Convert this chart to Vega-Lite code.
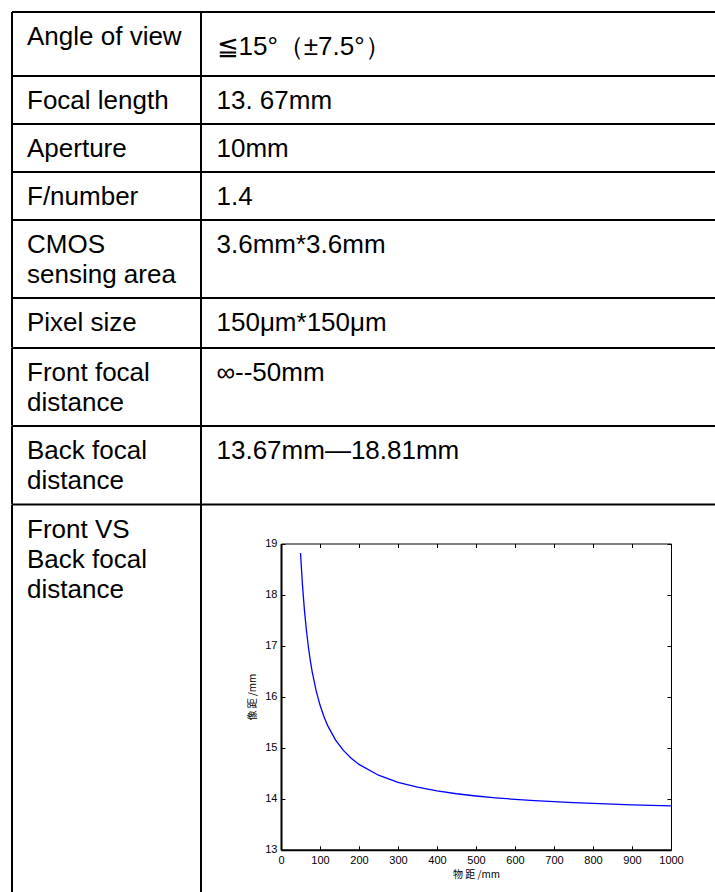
{
  "$schema": "https://vega.github.io/schema/vega-lite/v6.json",
  "background": "white",
  "padding": {"left": 11, "top": 11, "right": 0, "bottom": 0},
  "columns": 2,
  "spacing": 0,
  "bounds": "flush",
  "config": {
    "view": {"stroke": null},
    "font": "Liberation Sans",
    "rule": {"color": "black", "strokeWidth": 2},
    "text": {"font": "Liberation Sans", "fontSize": 26, "align": "left", "baseline": "alphabetic", "lineBreak": "\n", "lineHeight": 30.3, "fill": "black"}
  },
  "datasets": {
    "table": [
      {"row": 1, "parameter": "Angle of view", "content": "≦15°（±7.5°）"},
      {"row": 2, "parameter": "Focal length", "content": "13. 67mm"},
      {"row": 3, "parameter": "Aperture", "content": "10mm"},
      {"row": 4, "parameter": "F/number", "content": "1.4"},
      {"row": 5, "parameter": "CMOS\nsensing area", "content": "3.6mm*3.6mm"},
      {"row": 6, "parameter": "Pixel size", "content": "150μm*150μm"},
      {"row": 7, "parameter": "Front focal\ndistance", "content": "∞--50mm"},
      {"row": 8, "parameter": "Back focal\ndistance", "content": "13.67mm—18.81mm"},
      {"row": 9, "parameter": "Front VS\nBack focal\ndistance", "content": ""}
    ],
    "curve": [
      {"object_distance": 50, "image_distance": 18.814},
      {"object_distance": 55, "image_distance": 18.191},
      {"object_distance": 60, "image_distance": 17.704},
      {"object_distance": 65, "image_distance": 17.311},
      {"object_distance": 70, "image_distance": 16.987},
      {"object_distance": 75, "image_distance": 16.717},
      {"object_distance": 80, "image_distance": 16.487},
      {"object_distance": 90, "image_distance": 16.118},
      {"object_distance": 100, "image_distance": 15.835},
      {"object_distance": 110, "image_distance": 15.610},
      {"object_distance": 120, "image_distance": 15.427},
      {"object_distance": 140, "image_distance": 15.149},
      {"object_distance": 160, "image_distance": 14.947},
      {"object_distance": 180, "image_distance": 14.793},
      {"object_distance": 200, "image_distance": 14.673},
      {"object_distance": 250, "image_distance": 14.461},
      {"object_distance": 300, "image_distance": 14.323},
      {"object_distance": 350, "image_distance": 14.226},
      {"object_distance": 400, "image_distance": 14.154},
      {"object_distance": 450, "image_distance": 14.098},
      {"object_distance": 500, "image_distance": 14.054},
      {"object_distance": 550, "image_distance": 14.018},
      {"object_distance": 600, "image_distance": 13.989},
      {"object_distance": 650, "image_distance": 13.964},
      {"object_distance": 700, "image_distance": 13.942},
      {"object_distance": 750, "image_distance": 13.924},
      {"object_distance": 800, "image_distance": 13.908},
      {"object_distance": 850, "image_distance": 13.894},
      {"object_distance": 900, "image_distance": 13.881},
      {"object_distance": 950, "image_distance": 13.870},
      {"object_distance": 1000, "image_distance": 13.860}
    ]
  },
  "concat": [
    {"width": 189, "height": 64, "data": {"name": "table"}, "transform": [{"filter": "datum.row == 1"}], "layer": [
      {"mark": "rule", "encoding": {"x": {"value": 0}, "x2": {"value": "width"}, "y": {"value": 0}}},
      {"mark": "rule", "encoding": {"x": {"value": 0}, "y": {"value": 0}, "y2": {"value": "height"}}},
      {"mark": "text", "encoding": {"text": {"field": "parameter"}, "x": {"value": 15}, "y": {"value": 32.5}}}
    ]},
    {"width": 515, "height": 64, "data": {"name": "table"}, "transform": [{"filter": "datum.row == 1"}], "layer": [
      {"mark": "rule", "encoding": {"x": {"value": 0}, "x2": {"value": "width"}, "y": {"value": 0}}},
      {"mark": "rule", "encoding": {"x": {"value": 0}, "y": {"value": 0}, "y2": {"value": "height"}}},
      {"mark": "text", "encoding": {"text": {"field": "content"}, "x": {"value": 15.5}, "y": {"value": 42.5}}}
    ]},
    {"width": 189, "height": 48, "data": {"name": "table"}, "transform": [{"filter": "datum.row == 2"}], "layer": [
      {"mark": "rule", "encoding": {"x": {"value": 0}, "x2": {"value": "width"}, "y": {"value": 0}}},
      {"mark": "rule", "encoding": {"x": {"value": 0}, "y": {"value": 0}, "y2": {"value": "height"}}},
      {"mark": "text", "encoding": {"text": {"field": "parameter"}, "x": {"value": 15}, "y": {"value": 32.5}}}
    ]},
    {"width": 515, "height": 48, "data": {"name": "table"}, "transform": [{"filter": "datum.row == 2"}], "layer": [
      {"mark": "rule", "encoding": {"x": {"value": 0}, "x2": {"value": "width"}, "y": {"value": 0}}},
      {"mark": "rule", "encoding": {"x": {"value": 0}, "y": {"value": 0}, "y2": {"value": "height"}}},
      {"mark": "text", "encoding": {"text": {"field": "content"}, "x": {"value": 15.5}, "y": {"value": 32.5}}}
    ]},
    {"width": 189, "height": 48, "data": {"name": "table"}, "transform": [{"filter": "datum.row == 3"}], "layer": [
      {"mark": "rule", "encoding": {"x": {"value": 0}, "x2": {"value": "width"}, "y": {"value": 0}}},
      {"mark": "rule", "encoding": {"x": {"value": 0}, "y": {"value": 0}, "y2": {"value": "height"}}},
      {"mark": "text", "encoding": {"text": {"field": "parameter"}, "x": {"value": 15}, "y": {"value": 32.5}}}
    ]},
    {"width": 515, "height": 48, "data": {"name": "table"}, "transform": [{"filter": "datum.row == 3"}], "layer": [
      {"mark": "rule", "encoding": {"x": {"value": 0}, "x2": {"value": "width"}, "y": {"value": 0}}},
      {"mark": "rule", "encoding": {"x": {"value": 0}, "y": {"value": 0}, "y2": {"value": "height"}}},
      {"mark": "text", "encoding": {"text": {"field": "content"}, "x": {"value": 15.5}, "y": {"value": 32.5}}}
    ]},
    {"width": 189, "height": 48, "data": {"name": "table"}, "transform": [{"filter": "datum.row == 4"}], "layer": [
      {"mark": "rule", "encoding": {"x": {"value": 0}, "x2": {"value": "width"}, "y": {"value": 0}}},
      {"mark": "rule", "encoding": {"x": {"value": 0}, "y": {"value": 0}, "y2": {"value": "height"}}},
      {"mark": "text", "encoding": {"text": {"field": "parameter"}, "x": {"value": 15}, "y": {"value": 32.5}}}
    ]},
    {"width": 515, "height": 48, "data": {"name": "table"}, "transform": [{"filter": "datum.row == 4"}], "layer": [
      {"mark": "rule", "encoding": {"x": {"value": 0}, "x2": {"value": "width"}, "y": {"value": 0}}},
      {"mark": "rule", "encoding": {"x": {"value": 0}, "y": {"value": 0}, "y2": {"value": "height"}}},
      {"mark": "text", "encoding": {"text": {"field": "content"}, "x": {"value": 15.5}, "y": {"value": 32.5}}}
    ]},
    {"width": 189, "height": 78, "data": {"name": "table"}, "transform": [{"filter": "datum.row == 5"}], "layer": [
      {"mark": "rule", "encoding": {"x": {"value": 0}, "x2": {"value": "width"}, "y": {"value": 0}}},
      {"mark": "rule", "encoding": {"x": {"value": 0}, "y": {"value": 0}, "y2": {"value": "height"}}},
      {"mark": "text", "encoding": {"text": {"field": "parameter"}, "x": {"value": 15}, "y": {"value": 32.5}}}
    ]},
    {"width": 515, "height": 78, "data": {"name": "table"}, "transform": [{"filter": "datum.row == 5"}], "layer": [
      {"mark": "rule", "encoding": {"x": {"value": 0}, "x2": {"value": "width"}, "y": {"value": 0}}},
      {"mark": "rule", "encoding": {"x": {"value": 0}, "y": {"value": 0}, "y2": {"value": "height"}}},
      {"mark": "text", "encoding": {"text": {"field": "content"}, "x": {"value": 15.5}, "y": {"value": 32.5}}}
    ]},
    {"width": 189, "height": 49.5, "data": {"name": "table"}, "transform": [{"filter": "datum.row == 6"}], "layer": [
      {"mark": "rule", "encoding": {"x": {"value": 0}, "x2": {"value": "width"}, "y": {"value": 0}}},
      {"mark": "rule", "encoding": {"x": {"value": 0}, "y": {"value": 0}, "y2": {"value": "height"}}},
      {"mark": "text", "encoding": {"text": {"field": "parameter"}, "x": {"value": 15}, "y": {"value": 32.5}}}
    ]},
    {"width": 515, "height": 49.5, "data": {"name": "table"}, "transform": [{"filter": "datum.row == 6"}], "layer": [
      {"mark": "rule", "encoding": {"x": {"value": 0}, "x2": {"value": "width"}, "y": {"value": 0}}},
      {"mark": "rule", "encoding": {"x": {"value": 0}, "y": {"value": 0}, "y2": {"value": "height"}}},
      {"mark": "text", "encoding": {"text": {"field": "content"}, "x": {"value": 15.5}, "y": {"value": 32.5}}}
    ]},
    {"width": 189, "height": 77.5, "data": {"name": "table"}, "transform": [{"filter": "datum.row == 7"}], "layer": [
      {"mark": "rule", "encoding": {"x": {"value": 0}, "x2": {"value": "width"}, "y": {"value": 0}}},
      {"mark": "rule", "encoding": {"x": {"value": 0}, "y": {"value": 0}, "y2": {"value": "height"}}},
      {"mark": "text", "encoding": {"text": {"field": "parameter"}, "x": {"value": 15}, "y": {"value": 32.5}}}
    ]},
    {"width": 515, "height": 77.5, "data": {"name": "table"}, "transform": [{"filter": "datum.row == 7"}], "layer": [
      {"mark": "rule", "encoding": {"x": {"value": 0}, "x2": {"value": "width"}, "y": {"value": 0}}},
      {"mark": "rule", "encoding": {"x": {"value": 0}, "y": {"value": 0}, "y2": {"value": "height"}}},
      {"mark": "text", "encoding": {"text": {"field": "content"}, "x": {"value": 15.5}, "y": {"value": 32.5}}}
    ]},
    {"width": 189, "height": 78.5, "data": {"name": "table"}, "transform": [{"filter": "datum.row == 8"}], "layer": [
      {"mark": "rule", "encoding": {"x": {"value": 0}, "x2": {"value": "width"}, "y": {"value": 0}}},
      {"mark": "rule", "encoding": {"x": {"value": 0}, "y": {"value": 0}, "y2": {"value": "height"}}},
      {"mark": "rule", "encoding": {"x": {"value": 0}, "x2": {"value": "width"}, "y": {"value": "height"}}},
      {"mark": "text", "encoding": {"text": {"field": "parameter"}, "x": {"value": 15}, "y": {"value": 32.5}}}
    ]},
    {"width": 515, "height": 78.5, "data": {"name": "table"}, "transform": [{"filter": "datum.row == 8"}], "layer": [
      {"mark": "rule", "encoding": {"x": {"value": 0}, "x2": {"value": "width"}, "y": {"value": 0}}},
      {"mark": "rule", "encoding": {"x": {"value": 0}, "y": {"value": 0}, "y2": {"value": "height"}}},
      {"mark": "rule", "encoding": {"x": {"value": 0}, "x2": {"value": "width"}, "y": {"value": "height"}}},
      {"mark": "text", "encoding": {"text": {"field": "content"}, "x": {"value": 15.5}, "y": {"value": 32.5}}}
    ]},
    {"width": 189, "height": 389.5, "data": {"name": "table"}, "transform": [{"filter": "datum.row == 9"}], "layer": [
      {"mark": "rule", "encoding": {"x": {"value": 0}, "y": {"value": 0}, "y2": {"value": "height"}}},
      {"mark": "rule", "encoding": {"x": {"value": "width"}, "y": {"value": 0}, "y2": {"value": "height"}}},
      {"mark": "text", "encoding": {"text": {"field": "parameter"}, "x": {"value": 15}, "y": {"value": 32.5}}}
    ]},
    {"width": 515, "height": 389.5, "data": {"name": "curve"},
     "layer": [
      {"mark": {"type": "line", "color": "#0000ff", "strokeWidth": 1.3},
       "encoding": {
         "x": {"field": "object_distance", "type": "quantitative",
               "scale": {"domain": [0, 1000], "range": [80, 470], "nice": false, "zero": false},
               "axis": {"orient": "bottom", "offset": -44.7, "values": [0, 100, 200, 300, 400, 500, 600, 700, 800, 900, 1000], "format": "d", "title": "物 距 /mm", "grid": false,
                        "domainColor": "black", "domainWidth": 2, "tickColor": "black", "tickSize": -4, "tickWidth": 1,
                        "labelPadding": 9, "labelFontSize": 11, "labelColor": "black", "labelFlush": false, "labelOverlap": false,
                        "labelFont": "Liberation Sans",
                        "titleFont": "Noto Sans CJK SC", "titleFontSize": 10, "titleFontWeight": "normal", "titleColor": "black", "titlePadding": 4}},
         "y": {"field": "image_distance", "type": "quantitative",
               "scale": {"domain": [13, 19], "range": [344.8, 38.5], "nice": false, "zero": false},
               "axis": {"orient": "left", "offset": -80, "values": [13, 14, 15, 16, 17, 18, 19], "title": "像 距 /mm", "grid": false,
                        "domainColor": "black", "domainWidth": 2, "tickColor": "black", "tickSize": -4, "tickWidth": 1,
                        "labelPadding": 8, "labelFontSize": 11, "labelColor": "black", "labelFlush": false, "labelOverlap": false,
                        "labelFont": "Liberation Sans",
                        "titleFont": "Noto Sans CJK SC", "titleFontSize": 10, "titleFontWeight": "normal", "titleColor": "black", "titlePadding": 7}}
       }},
      {"mark": {"type": "line", "strokeOpacity": 0},
       "encoding": {
         "x": {"field": "object_distance", "type": "quantitative",
               "axis": {"orient": "top", "offset": -38.5, "values": [0, 100, 200, 300, 400, 500, 600, 700, 800, 900, 1000], "title": null, "grid": false,
                        "domain": true, "domainColor": "black", "domainWidth": 1, "labels": false, "tickColor": "black", "tickSize": -4, "tickWidth": 1}},
         "y": {"field": "image_distance", "type": "quantitative",
               "axis": {"orient": "right", "offset": -45, "values": [13, 14, 15, 16, 17, 18, 19], "title": null, "grid": false,
                        "domain": true, "domainColor": "black", "domainWidth": 1, "labels": false, "tickColor": "black", "tickSize": -4, "tickWidth": 1}}
       }}
     ],
     "resolve": {"axis": {"x": "independent", "y": "independent"}}
    }
  ]
}
